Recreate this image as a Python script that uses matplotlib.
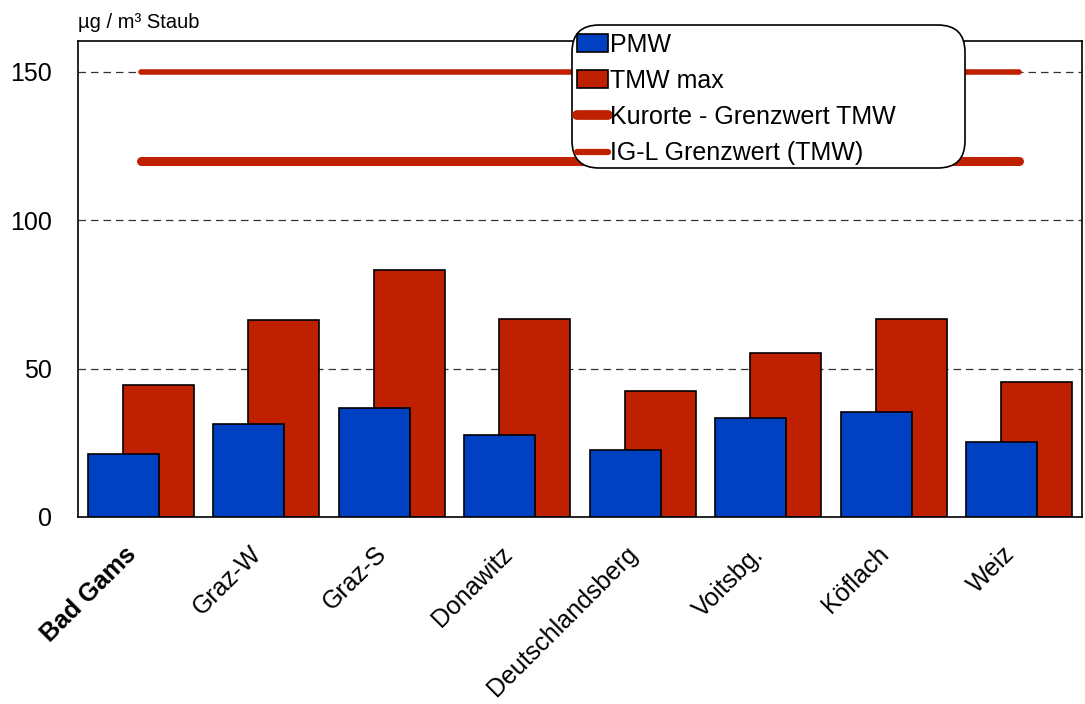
import matplotlib
matplotlib.use("Agg")
import matplotlib.pyplot as plt
import numpy as np
from matplotlib.patches import Patch, FancyBboxPatch
from matplotlib.lines import Line2D

plt.rcParams['font.family'] = ['Liberation Sans', 'DejaVu Sans']

categories = ["Bad Gams", "Graz-W", "Graz-S", "Donawitz", "Deutschlandsberg", "Voitsbg.", "Köflach", "Weiz"]
pmw = [21.2, 31.3, 36.7, 27.6, 22.7, 33.5, 35.4, 25.3]
tmw_max = [44.5, 66.4, 83.2, 66.6, 42.3, 55.3, 66.6, 45.5]
kurorte_limit = 120
igl_limit = 150
yticks = [0, 50, 100, 150]

blue = "#0041C2"
red = "#BF2000"

W, H = 1085, 704
fig = plt.figure(figsize=(W/100, H/100), dpi=100)
ax = fig.add_axes([78/W, 1-517/H, (1082-78)/W, (517-41)/H])

x = np.arange(len(categories))
w = 0.566
off = 0.14
ax.bar(x - off, pmw, width=w, color=blue, edgecolor='black', linewidth=1.2, zorder=3)
ax.bar(x + off, tmw_max, width=w, color=red, edgecolor='black', linewidth=1.2, zorder=2)

ax.plot([x[0], x[-1]], [kurorte_limit]*2, color=red, lw=6.5, solid_capstyle='round', zorder=4)
ax.plot([x[0], x[-1]], [igl_limit]*2, color=red, lw=4, solid_capstyle='round', zorder=4)

ax.set_xlim(-0.5, len(categories) - 0.5)
ax.set_ylim(0, 160.4)
ax.set_yticks(yticks)
ax.set_yticklabels([str(v) for v in yticks], fontsize=18)
ax.set_xticks(x)
ax.set_xticklabels(categories, rotation=45, ha='right', va='top', fontsize=18)
ax.get_xticklabels()[0].set_fontweight('bold')
ax.tick_params(axis='x', length=0, pad=18)
ax.tick_params(axis='y', length=0, pad=19)

for v in yticks[1:]:
    ax.axhline(v, color='#333333', lw=0.9, ls=(0, (6, 4)), zorder=1)

for s in ax.spines.values():
    s.set_color('black')
    s.set_linewidth(1.2)

fig.text(78/W, 1-23/H, "µg / m³ Staub", fontsize=14.5, va='center', ha='left')

# legend frame
frame = FancyBboxPatch((572/W, 1-168/H), (965-572)/W, (168-25)/H,
                       boxstyle="round,pad=0,rounding_size=0.025",
                       transform=fig.transFigure, facecolor='white', edgecolor='black',
                       linewidth=1.2, zorder=5, mutation_aspect=W/H)
fig.patches.append(frame)

handles = [
    Patch(facecolor=blue, edgecolor='black', linewidth=1.2),
    Patch(facecolor=red, edgecolor='black', linewidth=1.2),
    Line2D([0], [0], color=red, lw=7, solid_capstyle='round'),
    Line2D([0], [0], color=red, lw=4.5, solid_capstyle='round'),
]
labels = ["PMW", "TMW max", "Kurorte - Grenzwert TMW", "IG-L Grenzwert (TMW)"]
leg = fig.legend(handles, labels, loc='upper left', bbox_to_anchor=(574/W, 1-30/H),
                 fontsize=18, frameon=False,
                 handlelength=1.25, handleheight=0.7, handletextpad=0.1, borderpad=0.1,
                 labelspacing=0.49, borderaxespad=0)
leg.set_zorder(10)

fig.savefig("out.png", dpi=100)
